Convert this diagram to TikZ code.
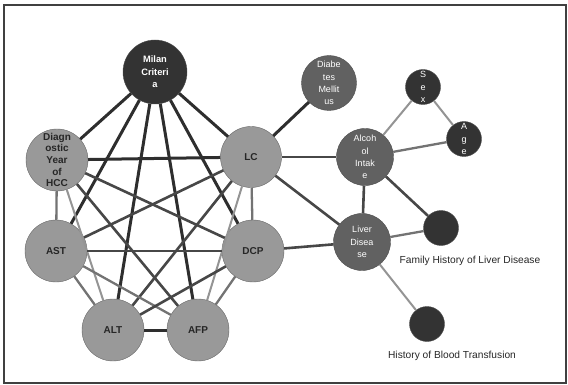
\documentclass[tikz,border=0pt]{standalone}
\usepackage{fontspec}
\setmainfont{Liberation Sans}
\tikzset{
  graynode/.style={circle, draw=black!60, fill=black!40, inner sep=0pt, minimum size=62pt, align=center, text=black!85, font=\bfseries\fontsize{10}{11.6}\selectfont},
  darknode/.style={circle, draw=black!70, fill=black!80, inner sep=0pt, align=center, text=white, font=\fontsize{9}{12.4}\selectfont},
  midnode/.style={darknode, fill=black!62},
  strong/.style={line width=3pt, color=black!82},
  medium/.style={line width=2.6pt, color=black!72},
  weak/.style={line width=2.3pt, color=black!55},
  faint/.style={line width=2pt, color=black!42},
  caption/.style={font=\fontsize{10.2}{12}\selectfont, text=black!85},
}

\begin{document}
\begin{tikzpicture}[x=1pt, y=-1pt]
			%%%%% START %%%%%
			\useasboundingbox (0, 0) rectangle (568, 385);
			\draw[line width=1.4pt, color=black!75] (4, 5) rectangle (566, 383);
			\draw[line width=2.2pt, color=black!75] (4, 5) -- (566, 5);
			
			\node[darknode, minimum size=64pt, font=\bfseries\fontsize{9.3}{12.4}\selectfont] (milan) at (155, 72) {Milan\\Criteri\\a};
			\node[graynode] (diag) at (57, 160) {Diagn\\ostic\\Year\\of\\HCC};
			\node[graynode, minimum size=61pt] (lc) at (251, 157) {LC};
			\node[graynode] (ast) at (56, 251) {AST};
			\node[graynode] (dcp) at (253, 251) {DCP};
			\node[graynode] (alt) at (113, 330) {ALT};
			\node[graynode] (afp) at (198, 330) {AFP};
			
			\node[midnode, minimum size=55pt] (diab) at (329, 83) {Diabe\\tes\\Mellit\\us};
			\node[midnode, minimum size=57pt] (alcohol) at (365, 157) {Alcoh\\ol\\Intak\\e};
			\node[midnode, minimum size=57pt] (liver) at (362, 242) {Liver\\Disea\\se};
			\node[darknode, minimum size=35pt] (sex) at (423, 87) {S\\e\\x};
			\node[darknode, minimum size=35pt] (age) at (464, 139) {A\\g\\e};
			\node[darknode, minimum size=35pt] (family) at (441, 228) {};
			\node[darknode, minimum size=35pt] (blood) at (427, 324) {};
			
			\node[caption] (familytxt) at (470, 261) {Family History of Liver Disease};
			\node[caption] (bloodtxt) at (452, 356) {History of Blood Transfusion};
			
			% clinical cluster
			\draw[strong] (milan) -- (diag);
			\draw[strong] (milan) -- (lc);
			\draw[strong] (milan) -- (ast);
			\draw[strong] (milan) -- (alt);
			\draw[strong] (milan) -- (afp);
			\draw[strong] (milan) -- (dcp);
			
			\draw[strong] (diag) -- (lc);
			\draw[weak] (diag) -- (ast);
			\draw[faint] (diag) -- (alt);
			\draw[medium] (diag) -- (afp);
			\draw[medium] (diag) -- (dcp);
			
			\draw[medium] (lc) -- (ast);
			\draw[medium] (lc) -- (alt);
			\draw[faint] (lc) -- (afp);
			\draw[weak] (lc) -- (dcp);
			
			\draw[medium] (ast) -- (dcp);
			\draw[weak] (ast) -- (alt);
			\draw[weak] (ast) -- (afp);
			\draw[medium] (dcp) -- (alt);
			\draw[weak] (dcp) -- (afp);
			\draw[strong] (alt) -- (afp);
			
			% risk factors
			\draw[strong] (lc) -- (diab);
			\draw[medium] (lc) -- (alcohol);
			\draw[medium] (lc) -- (liver);
			\draw[medium] (dcp) -- (liver);
			\draw[medium] (alcohol) -- (liver);
			\draw[faint] (alcohol) -- (sex);
			\draw[faint] (sex) -- (age);
			\draw[weak] (alcohol) -- (age);
			\draw[medium] (alcohol) -- (family);
			\draw[weak] (liver) -- (family);
			\draw[faint] (liver) -- (blood);
			
			%%%%% END %%%%%
\end{tikzpicture}
\end{document}
